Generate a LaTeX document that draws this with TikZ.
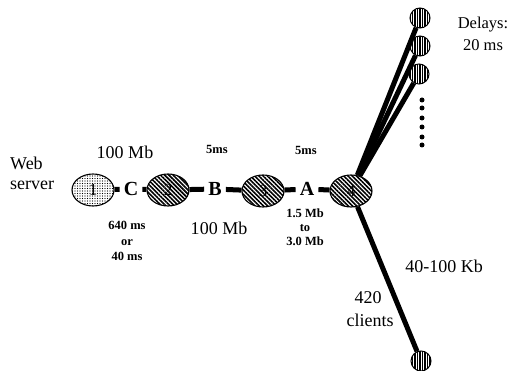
\documentclass[tikz,border=0pt]{standalone}
\usepackage{fontspec}
\setmainfont{Liberation Serif}
\usetikzlibrary{shapes.geometric,patterns.meta}

\begin{document}
\begin{tikzpicture}[x=1pt,y=-1pt,
  lbl/.style={font=\fontsize{18}{20}\selectfont, inner sep=0pt},
  sm/.style={font=\bfseries\fontsize{12.5}{15.5}\selectfont, inner sep=0pt, align=center},
  hop/.style={font=\bfseries\fontsize{20}{22}\selectfont, inner sep=4pt},
  router/.style={ellipse, draw, line width=1.1pt, minimum width=42pt, minimum height=32pt,
    inner sep=0pt, fill=white, font=\fontsize{17}{17}\selectfont},
  server/.style={router, postaction={pattern={Dots[radius=0.55pt,distance=2.5pt]}}},
  hatched/.style={router, postaction={pattern={Lines[angle=-45,distance=3pt,line width=1.6pt]}}},
  leaf/.style={circle, draw, line width=1pt, minimum size=20pt, inner sep=0pt, fill=white,
    postaction={pattern={Lines[angle=90,distance=2.5pt,line width=1.3pt]}}},
  link/.style={line width=5pt},
]
\useasboundingbox (0,0) rectangle (511,371);

% hosts and routers along the path
\node[server]  (n1) at (93,190)  {1};
\node[hatched] (n2) at (168,190) {2};
\node[hatched] (n3) at (263,191) {3};
\node[hatched] (n4) at (351,191) {4};

% hop names between the routers
\node[hop] (C) at (131,189) {C};
\node[hop] (B) at (215,189) {B};
\node[hop] (A) at (307,189) {A};

% client end points
\node[leaf] (l1) at (420,18)  {};
\node[leaf] (l2) at (420,46)  {};
\node[leaf] (l3) at (419,74)  {};
\node[leaf] (l4) at (421,361) {};

% links
\draw[link] (n1) -- (C);
\draw[link] (C) -- (n2);
\draw[link] (n2) -- (B);
\draw[link] (B) -- (n3);
\draw[link] (n3) -- (A);
\draw[link] (A) -- (n4);
\draw[link] (n4) -- (l1);
\draw[link] (n4) -- (l2);
\draw[link] (n4) -- (l3);
\draw[link] (n4) -- (l4);

% ellipsis of further clients
\foreach \yy in {100,108,118,127,137,145}
  \fill (422,\yy) circle (2.5pt);

% labels
\node[lbl, anchor=west] (web) at (10,163) {Web};
\node[lbl, anchor=west] (srv) at (10,185) {server};
\node[lbl] (bwC) at (125,152) {100 Mb};
\node[sm]  (dB)  at (217,149) {5ms};
\node[sm]  (dA)  at (306,150) {5ms};
\node[sm]  (dC)  at (127,241) {640 ms\\or\\40 ms};
\node[lbl] (bwB) at (219,228) {100 Mb};
\node[sm, font=\bfseries\fontsize{12.5}{14}\selectfont] (bwA) at (305,227) {1.5 Mb\\to\\3.0 Mb};
\node[lbl, align=center, font=\fontsize{16.5}{22}\selectfont] (dl) at (483,34) {Delays:\\20 ms};
\node[lbl] (bwL) at (444,266) {40-100 Kb};
\node[lbl] (n420) at (368,298) {420};
\node[lbl] (cl) at (370,320) {clients};
\end{tikzpicture}
\end{document}
